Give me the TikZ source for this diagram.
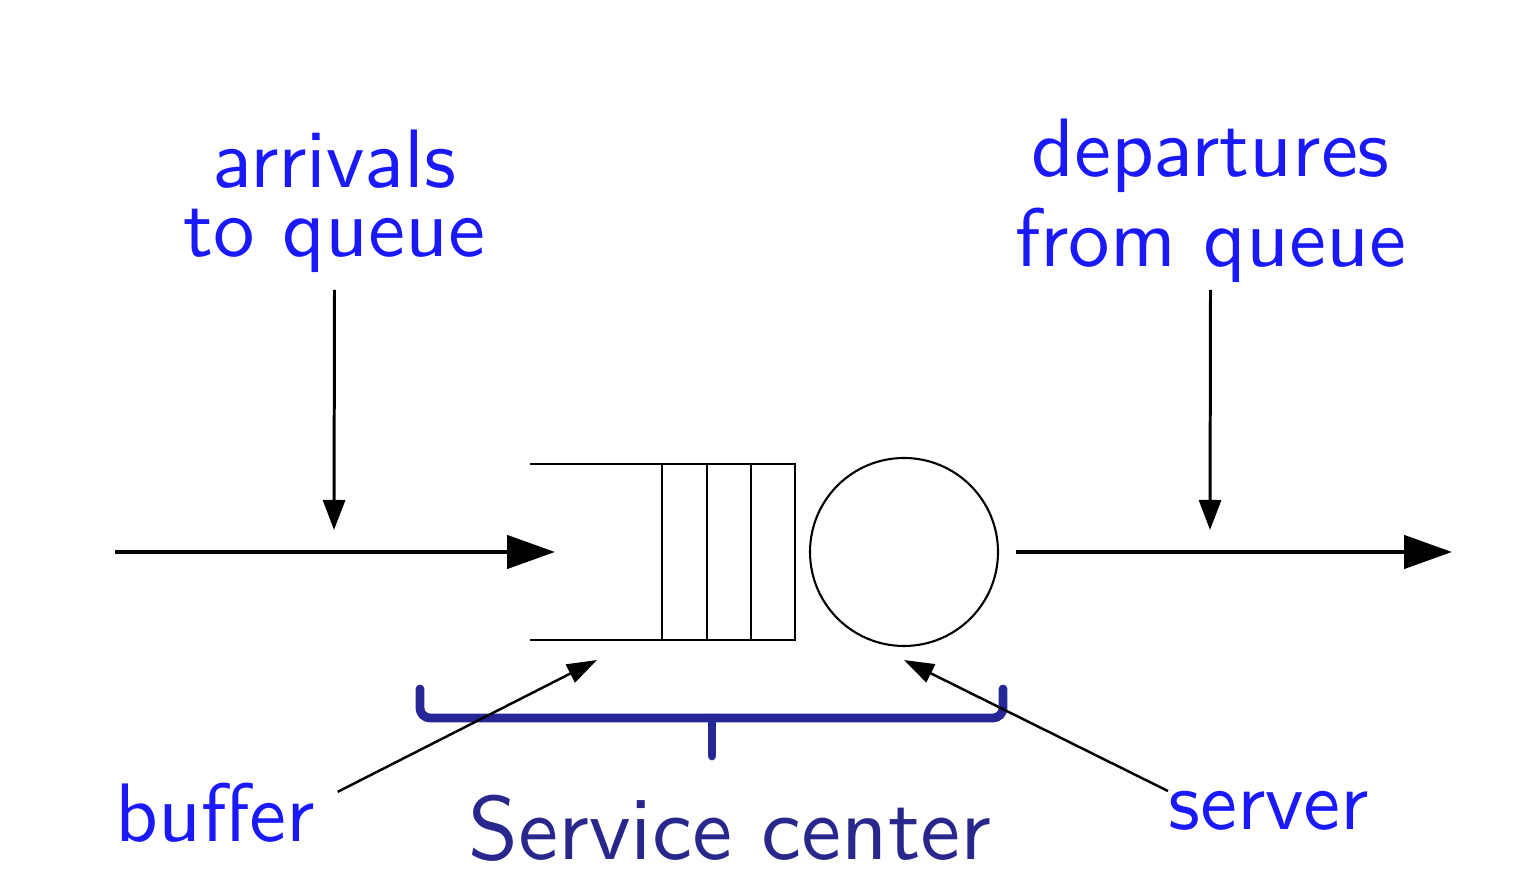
\documentclass[tikz,border=0pt]{standalone}
\usepackage{fontspec}
\setsansfont{lmsans10-regular.otf}
\usetikzlibrary{arrows.meta}
\definecolor{lblblue}{RGB}{25,25,250}
\definecolor{navy}{RGB}{40,40,140}
\definecolor{bracenavy}{RGB}{38,38,150}

\begin{document}
\begin{tikzpicture}[
  lbl/.style={text=lblblue,inner sep=0pt,font=\sffamily\fontsize{23.6}{20}\selectfont},
  flow/.style={line width=1.3pt,-{Triangle[length=0.48cm,width=0.33cm]}},
  drop/.style={line width=0.85pt,-{Triangle[length=0.30cm,width=0.22cm]}},
  pointer/.style={line width=0.7pt,-{Triangle[length=0.30cm,width=0.20cm]}},
  queueline/.style={line width=0.7pt},
  bracket/.style={draw=bracenavy,line width=2.5pt,rounded corners=0.1cm,line cap=round}
]
\useasboundingbox (0,0) rectangle (15.3,8.9);

%Server
\node[draw,circle,line width=0.6pt,minimum size=1.88cm,inner sep=0pt
] (server) at (9.04,3.38){};

%Queue
\coordinate (qtl) at (5.30,4.26);
\coordinate (qbl) at (5.30,2.50);
\draw[queueline] (qtl) -- (7.95,4.26) -- (7.95,2.50) -- (qbl);
\foreach \x in {6.62,7.07,7.51}
  \draw[queueline] (\x,4.26) -- (\x,2.50);

%Main flow
\coordinate (in) at (1.15,3.38);
\coordinate (qin) at (5.55,3.38);
\coordinate (out) at (14.52,3.38);
\draw[flow] (in) -- (qin);
\draw[flow] ([xshift=0.17cm]server.east) -- (out);

%Arrivals
\node[lbl,align=center,anchor=south,
  font=\sffamily\fontsize{23.6}{19.6}\selectfont
] (arr) at (3.345,6.17){arrivals\\to queue};
\coordinate (arrin) at (3.34,3.60);
\draw[drop] ([yshift=-0.17cm]arr.south) -- (arrin);

%Departures
\node[lbl,align=center,anchor=south,
  font=\sffamily\fontsize{23.6}{25.6}\selectfont
] (dep) at (12.105,6.07){departures\\from queue};
\coordinate (depin) at (12.10,3.60);
\draw[drop] ([yshift=-0.07cm]dep.south) -- (depin);

%Service center
\draw[bracket] (4.20,2.01) |- (7.12,1.72) -| (10.03,2.01);
\draw[bracket,rounded corners=0pt] (7.12,1.72) -- (7.12,1.34);
\node[text=navy,inner sep=0pt,anchor=base,
  font=\sffamily\fontsize{25.6}{30}\selectfont
] (sc) at (7.30,0.30){Service center};

%Buffer
\node[lbl,anchor=base west] (buf) at (1.15,0.48){buffer};
\coordinate (bufpt) at (5.97,2.30);
\draw[pointer] ([shift={(0.22,-0.09)}]buf.north east) -- (bufpt);

%Server label
\node[lbl,anchor=base west] (srvlbl) at (11.68,0.60){server};
\draw[pointer] (srvlbl.north west) -- ([yshift=-0.13cm]server.south);

\end{tikzpicture}
\end{document}
